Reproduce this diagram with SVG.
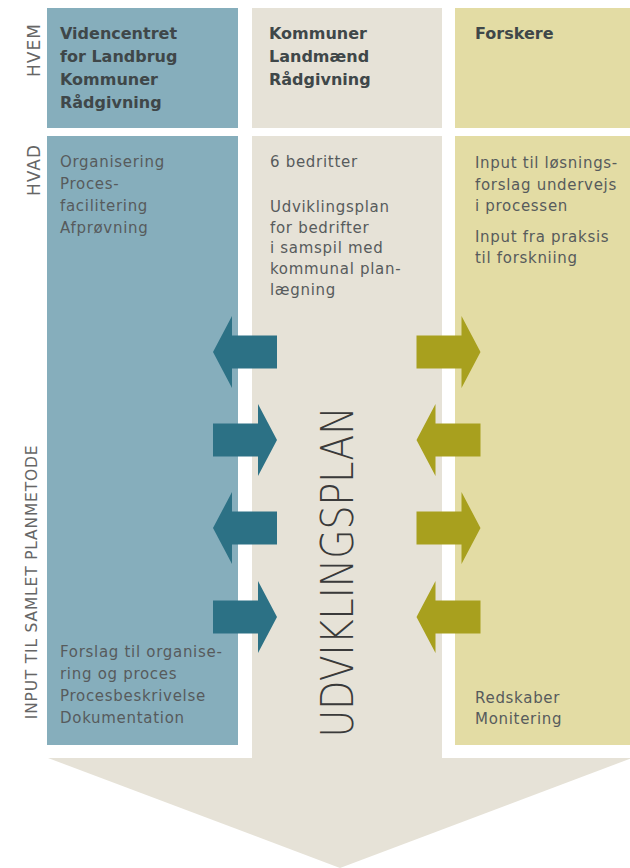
<svg xmlns="http://www.w3.org/2000/svg" xmlns:xlink="http://www.w3.org/1999/xlink" width="630" height="868" viewBox="0 0 630 868">
  <style>
    .blue { fill: #86AEBC; }
    .beige { fill: #E6E2D7; }
    .yellow { fill: #E3DCA4; }
    .arrBlue { fill: #2C7185; }
    .arrYellow { fill: #A8A01E; }
    .hd { font-family: "DejaVu Sans", "Liberation Sans", sans-serif; font-weight: bold; font-size: 16px; fill: #3f4749; }
    .bd { font-family: "DejaVu Sans", "Liberation Sans", sans-serif; font-size: 15px; letter-spacing: 0.7px; fill: #575b5c; }
    .side { font-family: "DejaVu Sans", "Liberation Sans", sans-serif; font-size: 17px; fill: #666666; text-anchor: middle; }
    .side2 { font-family: "DejaVu Sans", "Liberation Sans", sans-serif; font-size: 15.5px; fill: #666666; text-anchor: middle; }
    .big { font-family: "DejaVu Sans", "Liberation Sans", sans-serif; font-weight: 200; font-size: 44px; fill: #3a3a3a; text-anchor: middle; }
  </style>
  <defs>
    <path id="arr" d="M-32,-16.5 H13 V-36 L32,0 L13,36 V16.5 H-32 Z"/>
  </defs>
  <rect width="630" height="868" fill="#ffffff"/>

  <g id="big-arrow">
    <polygon class="beige" points="48,758 632,758 340,868"/>
  </g>

  <g id="side-labels">
    <text class="side" x="40" y="50" transform="rotate(-90 40 50)" letter-spacing="1">HVEM</text>
    <text class="side" x="40" y="170" transform="rotate(-90 40 170)" letter-spacing="1">HVAD</text>
    <text class="side2" x="37" y="582" transform="rotate(-90 37 582)" letter-spacing="0.8">INPUT TIL SAMLET PLANMETODE</text>
  </g>

  <g id="hvem-videncentret">
    <rect class="blue" x="47" y="8" width="191" height="120"/>
    <text class="hd" x="60" y="39">Videncentret</text>
    <text class="hd" x="60" y="62">for Landbrug</text>
    <text class="hd" x="60" y="85">Kommuner</text>
    <text class="hd" x="60" y="108">Rådgivning</text>
  </g>
  <g id="hvem-kommuner">
    <rect class="beige" x="252" y="8" width="190" height="120"/>
    <text class="hd" x="269" y="39">Kommuner</text>
    <text class="hd" x="269" y="62">Landmænd</text>
    <text class="hd" x="269" y="85">Rådgivning</text>
  </g>
  <g id="hvem-forskere">
    <rect class="yellow" x="455" y="8" width="175" height="120"/>
    <text class="hd" x="475" y="39">Forskere</text>
  </g>

  <g id="hvad-videncentret">
    <rect class="blue" x="47" y="136" width="191" height="609"/>
    <text class="bd" x="60" y="167">Organisering</text>
    <text class="bd" x="60" y="189">Proces-</text>
    <text class="bd" x="60" y="211">facilitering</text>
    <text class="bd" x="60" y="233">Afprøvning</text>
    <text class="bd" x="60" y="657">Forslag til organise-</text>
    <text class="bd" x="60" y="679">ring og proces</text>
    <text class="bd" x="60" y="701">Procesbeskrivelse</text>
    <text class="bd" x="60" y="723">Dokumentation</text>
  </g>
  <g id="udviklingsplan">
    <rect class="beige" x="252" y="136" width="190" height="624"/>
    <text class="bd" x="270" y="167">6 bedritter</text>
    <text class="bd" x="270" y="212">Udviklingsplan</text>
    <text class="bd" x="270" y="233">for bedrifter</text>
    <text class="bd" x="270" y="253">i samspil med</text>
    <text class="bd" x="270" y="274">kommunal plan-</text>
    <text class="bd" x="270" y="295">lægning</text>
    <text class="big" x="353" y="572" transform="rotate(-90 353 572)" textLength="331" lengthAdjust="spacingAndGlyphs">UDVIKLINGSPLAN</text>
  </g>
  <g id="hvad-forskere">
    <rect class="yellow" x="455" y="136" width="175" height="609"/>
    <text class="bd" x="475" y="168">Input til løsnings-</text>
    <text class="bd" x="475" y="190">forslag undervejs</text>
    <text class="bd" x="475" y="211">i processen</text>
    <text class="bd" x="475" y="242">Input fra praksis</text>
    <text class="bd" x="475" y="263">til forskniing</text>
    <text class="bd" x="475" y="703">Redskaber</text>
    <text class="bd" x="475" y="724">Monitering</text>
  </g>

  <g id="connectors">
    <use xlink:href="#arr" class="arrBlue" transform="translate(245 352) scale(-1 1)"/>
    <use xlink:href="#arr" class="arrBlue" transform="translate(245 440)"/>
    <use xlink:href="#arr" class="arrBlue" transform="translate(245 528) scale(-1 1)"/>
    <use xlink:href="#arr" class="arrBlue" transform="translate(245 617)"/>
    <use xlink:href="#arr" class="arrYellow" transform="translate(448.5 352)"/>
    <use xlink:href="#arr" class="arrYellow" transform="translate(448.5 440) scale(-1 1)"/>
    <use xlink:href="#arr" class="arrYellow" transform="translate(448.5 528)"/>
    <use xlink:href="#arr" class="arrYellow" transform="translate(448.5 617) scale(-1 1)"/>
  </g>
</svg>
